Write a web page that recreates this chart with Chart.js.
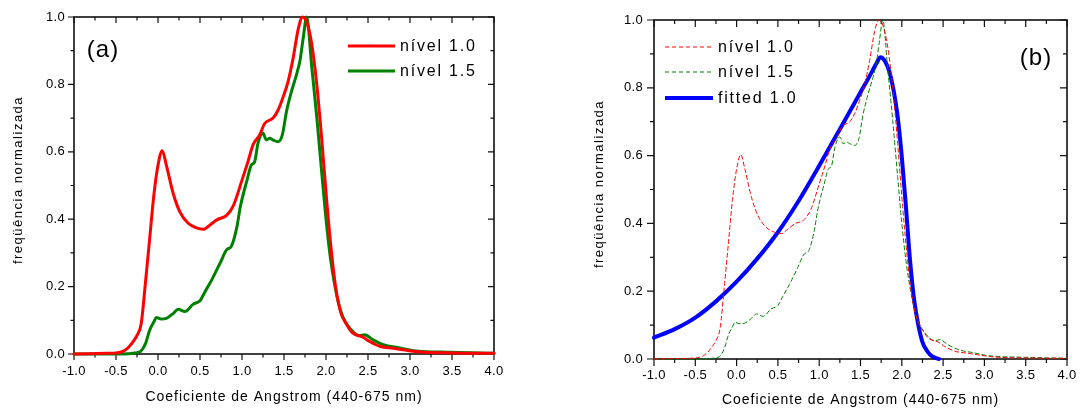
<!DOCTYPE html>
<html><head><meta charset="utf-8">
<script src="https://cdn.jsdelivr.net/npm/chart.js@4/dist/chart.umd.min.js"></script>
<style>
html,body{margin:0;padding:0;background:#fff;}
body{width:1085px;height:408px;overflow:hidden;position:relative;}
#wa{position:absolute;left:0;top:0;width:540px;height:408px;}
#wb{position:absolute;left:540px;top:0;width:545px;height:408px;}
</style></head>
<body>
<div id="wa"><canvas id="ca"></canvas></div>
<div id="wb"><canvas id="cb"></canvas></div>
<script>
// ---- data ----
const redX = [-1.0,-0.8,-0.6,-0.5,-0.45,-0.4,-0.35,-0.3,-0.25,-0.2,-0.15,-0.1,-0.05,0.0,0.05,0.1,0.18,0.26,0.36,0.45,0.54,0.62,0.7,0.82,0.9,1.0,1.07,1.13,1.21,1.27,1.37,1.43,1.49,1.55,1.61,1.67,1.72,1.77,1.83,1.89,1.95,2.01,2.07,2.12,2.18,2.24,2.32,2.44,2.52,2.64,2.8,2.96,3.12,3.5,4.0];
const redY = [0,0.001,0.002,0.003,0.005,0.01,0.02,0.035,0.055,0.09,0.21,0.34,0.47,0.56,0.603,0.56,0.477,0.422,0.388,0.375,0.37,0.383,0.398,0.412,0.442,0.516,0.57,0.62,0.65,0.684,0.70,0.724,0.763,0.81,0.88,0.965,1.0,0.985,0.92,0.80,0.635,0.45,0.29,0.19,0.12,0.09,0.062,0.05,0.037,0.023,0.017,0.011,0.006,0.003,0.002];
const greenX = [-1.0,-0.5,-0.35,-0.3,-0.25,-0.21,-0.15,-0.1,-0.05,-0.02,0.04,0.1,0.18,0.24,0.32,0.42,0.5,0.56,0.64,0.74,0.82,0.87,0.94,0.98,1.06,1.11,1.15,1.19,1.25,1.29,1.33,1.37,1.43,1.48,1.53,1.59,1.65,1.69,1.73,1.77,1.83,1.89,1.95,2.0,2.05,2.1,2.15,2.2,2.28,2.4,2.46,2.56,2.68,2.88,3.04,3.5,4.0];
const greenY = [0,0,0.001,0.002,0.004,0.007,0.03,0.07,0.095,0.108,0.104,0.106,0.12,0.133,0.126,0.148,0.158,0.185,0.22,0.27,0.31,0.318,0.378,0.437,0.516,0.56,0.57,0.625,0.655,0.635,0.64,0.635,0.63,0.65,0.72,0.78,0.83,0.87,0.94,1.0,0.853,0.704,0.536,0.40,0.29,0.21,0.15,0.11,0.077,0.054,0.057,0.042,0.028,0.018,0.01,0.005,0.002];
const fitX = [-1.0,-0.75,-0.5,-0.25,0.0,0.25,0.5,0.75,1.0,1.25,1.5,1.6,1.7,1.74,1.8,1.85,1.9,1.95,2.0,2.05,2.1,2.15,2.2,2.25,2.3,2.35,2.4,2.45];
const fitY = [0.063,0.088,0.122,0.17,0.228,0.296,0.374,0.466,0.57,0.678,0.787,0.83,0.875,0.89,0.877,0.847,0.793,0.715,0.596,0.449,0.29,0.173,0.10,0.05,0.026,0.011,0.004,0];
const xTickValues = [-1.0,-0.5,0.0,0.5,1.0,1.5,2.0,2.5,3.0,3.5,4.0];
const yTickValues = [0.0,0.2,0.4,0.6,0.8,1.0];
const seriesNames = ['nível 1.0','nível 1.5','fitted 1.0'];
const xTitle = 'Coeficiente de Angstrom (440-675 nm)';
const yTitle = 'freqüência normalizada';
const panelLabels = ['(a)','(b)'];

const FONT = "'Liberation Sans', Arial, sans-serif";
const pts = (xs, ys) => xs.map((v, i) => ({x: v, y: ys[i]}));
const minorOf = arr => arr.slice(0, -1).map((v, i) => (v + arr[i + 1]) / 2);

const deco = {
  id: 'deco',
  beforeUpdate(chart) { chart.ctx.letterSpacing = '0.3px'; },
  beforeDraw(chart) { chart.ctx.letterSpacing = '0.3px'; },
  beforeDatasetsDraw(chart, args, o) {
    const {ctx, chartArea: a, scales: {x, y}} = chart;
    ctx.save();
    ctx.strokeStyle = '#111';
    ctx.lineWidth = 1.6;
    ctx.strokeRect(a.left, a.top, a.right - a.left, a.bottom - a.top);
    ctx.lineWidth = 1.2;
    ctx.beginPath();
    const M = o.major, m = o.minor;
    const tickX = (v, len) => {
      const p = x.getPixelForValue(v);
      ctx.moveTo(p, a.bottom); ctx.lineTo(p, a.bottom + len);
      ctx.moveTo(p, a.top); ctx.lineTo(p, a.top + len);
    };
    const tickY = (v, len) => {
      const p = y.getPixelForValue(v);
      ctx.moveTo(a.left - len, p); ctx.lineTo(a.left, p);
      ctx.moveTo(a.right - len, p); ctx.lineTo(a.right, p);
    };
    xTickValues.forEach(v => tickX(v, M));
    minorOf(xTickValues).forEach(v => tickX(v, m));
    yTickValues.forEach(v => tickY(v, M));
    minorOf(yTickValues).forEach(v => tickY(v, m));
    ctx.stroke();
    ctx.restore();
  },
  afterDraw(chart, args, o) {
    const {ctx, chartArea: a} = chart;
    ctx.save();
    ctx.fillStyle = '#000';
    // x title
    ctx.letterSpacing = '1px';
    ctx.font = '14px ' + FONT;
    ctx.textAlign = 'center';
    ctx.textBaseline = 'middle';
    ctx.fillText(xTitle, (a.left + a.right) / 2, o.xTitleY);
    // y title
    ctx.save();
    ctx.letterSpacing = '1.5px';
    ctx.font = '13px ' + FONT;
    ctx.translate(o.yTitleX, o.yTitleY);
    ctx.rotate(-Math.PI / 2);
    ctx.fillText(yTitle, 0, 0);
    ctx.restore();
    // panel label
    ctx.letterSpacing = '1px';
    ctx.font = '24px ' + FONT;
    ctx.fillText(o.label, o.labelX, o.labelY);
    // legend
    ctx.letterSpacing = '1.8px';
    ctx.font = '16px ' + FONT;
    ctx.textAlign = 'left';
    o.legend.forEach(it => {
      ctx.save();
      ctx.strokeStyle = it.color;
      ctx.lineWidth = it.width;
      ctx.setLineDash(it.dash || []);
      ctx.beginPath();
      ctx.moveTo(o.legX0, it.y); ctx.lineTo(o.legX1, it.y);
      ctx.stroke();
      ctx.restore();
      ctx.fillText(it.text, o.legX1 + 5, it.y + 1);
    });
    ctx.restore();
  }
};

function makeChart(id, datasets, cfg) {
  return new Chart(document.getElementById(id), {
    type: 'line',
    data: {datasets},
    plugins: [deco],
    options: {
      responsive: true,
      maintainAspectRatio: false,
      animation: false,
      events: [],
      layout: {padding: {left: 0, top: cfg.top, right: cfg.right, bottom: 0}},
      elements: {point: {radius: 0}, line: {cubicInterpolationMode: 'monotone', borderCapStyle: 'round', borderJoinStyle: 'round'}},
      plugins: {
        legend: {display: false},
        tooltip: {enabled: false},
        deco: cfg.deco
      },
      scales: {
        x: {
          type: 'linear', min: -1, max: 4,
          afterFit: s => { s.height = cfg.xH; },
          afterBuildTicks: s => { s.ticks = xTickValues.map(v => ({value: v})); },
          grid: {display: false, drawTicks: false},
          border: {display: false},
          ticks: {color: '#000', font: {family: FONT, size: 13}, padding: cfg.xPad, maxRotation: 0, autoSkip: false,
                  callback: v => Number(v).toFixed(1)}
        },
        y: {
          type: 'linear', min: 0, max: 1,
          afterFit: s => { s.width = cfg.yW; },
          afterBuildTicks: s => { s.ticks = yTickValues.map(v => ({value: v})); },
          grid: {display: false, drawTicks: false},
          border: {display: false},
          ticks: {color: '#000', font: {family: FONT, size: 13}, padding: cfg.yPad, autoSkip: false,
                  callback: v => Number(v).toFixed(1)}
        }
      }
    }
  });
}

makeChart('ca', [
  {data: pts(redX, redY), borderColor: '#ff0000', borderWidth: 3, clip: false, order: 0},
  {data: pts(greenX, greenY), borderColor: '#008000', borderWidth: 3, clip: false, order: 1}
], {
  top: 17, right: 46, xH: 54, yW: 74, xPad: 9.5, yPad: 9,
  deco: {
    major: 6, minor: 3.5,
    xTitleY: 397, yTitleX: 18, yTitleY: 180,
    label: panelLabels[0], labelX: 103, labelY: 50,
    legX0: 348, legX1: 395,
    legend: [
      {text: seriesNames[0], color: '#ff0000', width: 3, y: 46},
      {text: seriesNames[1], color: '#008000', width: 3, y: 71}
    ]
  }
});

makeChart('cb', [
  {data: pts(redX, redY), borderColor: '#ff0000', borderWidth: 1, borderDash: [4, 3], clip: false},
  {data: pts(greenX, greenY), borderColor: '#008000', borderWidth: 1, borderDash: [4, 3], clip: false},
  {data: pts(fitX, fitY), borderColor: '#0000ff', borderWidth: 4, clip: false}
], {
  top: 20, right: 13, xH: 49, yW: 114, xPad: 8.5, yPad: 11,
  deco: {
    major: 7, minor: 4,
    xTitleY: 400, yTitleX: 59, yTitleY: 184,
    label: panelLabels[1], labelX: 496, labelY: 58,
    legX0: 125, legX1: 173,
    legend: [
      {text: seriesNames[0], color: '#ff0000', width: 1, dash: [4, 3], y: 47},
      {text: seriesNames[1], color: '#008000', width: 1, dash: [4, 3], y: 72},
      {text: seriesNames[2], color: '#0000ff', width: 4, y: 98}
    ]
  }
});
</script>
</body></html>
